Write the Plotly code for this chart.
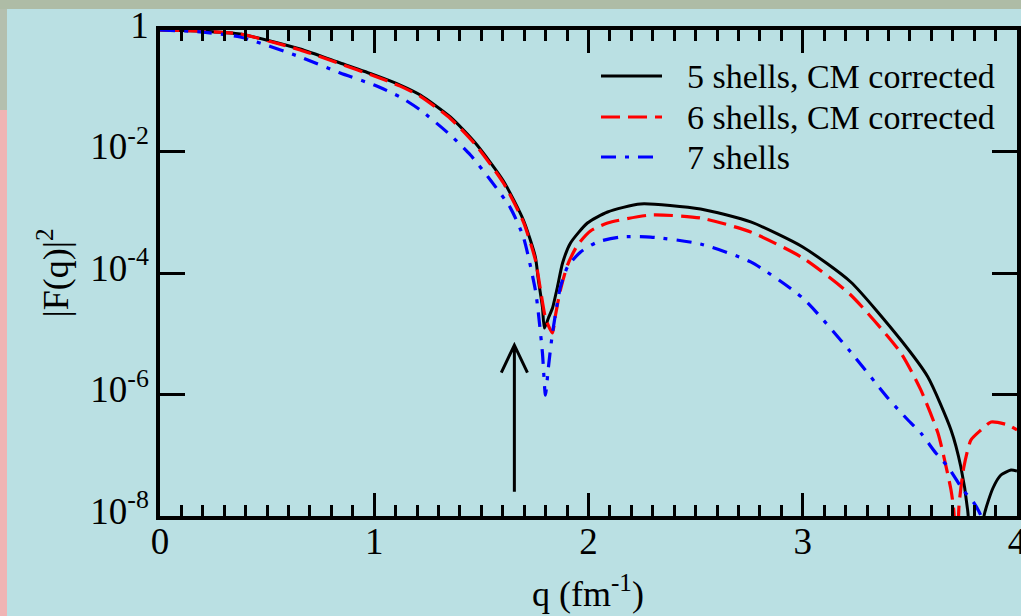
import plotly.graph_objects as go

# ---------------- data ----------------
q5 = [0.0, 0.187, 0.374, 0.654, 0.841, 1.0, 1.121, 1.215, 1.355, 1.472, 1.603, 1.696, 1.752,
      1.766, 1.785, 1.794, 1.813, 1.832, 1.855, 1.879, 1.916, 1.995, 2.089, 2.243, 2.523,
      2.757, 3.0, 3.224, 3.458, 3.584, 3.692, 3.738, 3.771, 3.785, 3.81, 3.832, 3.846,
      3.888, 3.925, 3.972, 4.0]
f5 = [1.0, 0.96, 0.86, 0.486, 0.286, 0.182, 0.124, 0.085, 0.037, 0.0138, 3.27e-3, 7.45e-4, 1.83e-4,
      7.67e-5, 2.76e-5, 1.24e-5, 1.82e-5, 2.65e-5, 5.89e-5, 1.46e-4, 3.12e-4, 6.65e-4, 1.01e-3,
      1.37e-3, 1.13e-3, 6.92e-4, 2.68e-4, 7.11e-5, 7.88e-6, 1.94e-6, 2.61e-7, 6.41e-8, 1.12e-8,
      1e-9, 1e-10, 1e-9, 1e-8, 2.89e-8, 4.73e-8, 5.71e-8, 5.5e-8]

q6 = [0.0, 0.187, 0.374, 0.654, 0.841, 1.0, 1.121, 1.215, 1.355, 1.472, 1.603, 1.696, 1.752,
      1.776, 1.799, 1.818, 1.832, 1.846, 1.869, 1.902, 1.949, 2.009, 2.089, 2.29, 2.523, 2.757,
      3.0, 3.224, 3.458, 3.551, 3.631, 3.659, 3.692, 3.706, 3.718, 3.729, 3.752, 3.785, 3.832,
      3.879, 3.958, 4.0]
f6 = [1.0, 0.96, 0.86, 0.47, 0.277, 0.175, 0.119, 0.081, 0.035, 0.013, 3.03e-3, 6.92e-4, 1.64e-4,
      5.25e-5, 1.82e-5, 1.24e-5, 1.03e-5, 2.04e-5, 5.25e-5, 1.35e-4, 2.89e-4, 4.91e-4, 6.65e-4,
      9.0e-4, 8.04e-4, 4.73e-4, 1.77e-4, 4.34e-5, 4.82e-6, 1.19e-6, 2.32e-7, 9.35e-8, 2.68e-8,
      1.12e-8, 1e-10, 1.41e-8, 6.41e-8, 1.78e-7, 2.61e-7, 3.52e-7, 3.15e-7, 2.61e-7]

q7 = [0.0, 0.187, 0.374, 0.654, 0.841, 1.0, 1.121, 1.215, 1.355, 1.449, 1.542, 1.636, 1.696,
      1.752, 1.766, 1.785, 1.799, 1.813, 1.832, 1.869, 1.902, 1.963, 2.042, 2.15, 2.29, 2.523,
      2.757, 3.0, 3.224, 3.397, 3.491, 3.551, 3.621, 3.678, 3.748, 3.799, 3.832, 3.88, 4.0]
f7 = [1.0, 0.93, 0.767, 0.36, 0.196, 0.124, 0.0789, 0.0482, 0.0187, 8.75e-3, 3.4e-3, 1.17e-3,
      3.91e-4, 5.25e-5, 2.2e-5, 4.82e-6, 9.8e-7, 2.84e-6, 1.03e-5, 5.89e-5, 1.26e-4, 2.22e-4,
      3.24e-4, 3.91e-4, 3.91e-4, 3.0e-4, 1.52e-4, 3.87e-5, 5.0e-6, 8.75e-7, 3.8e-7, 2.32e-7,
      1.09e-7, 6.41e-8, 2.68e-8, 1.64e-8, 1e-8, 2e-9, 1e-10]

names = ["5 shells, CM corrected", "6 shells, CM corrected", "7 shells"]
colors = ["black", "#ff0000", "#0000ff"]
dashes = ["solid", "19px,8px", "15px,9px,4px,9px"]
widths = [3, 3.2, 3.2]
ytick_vals = [1e-8, 1e-6, 1e-4, 1e-2, 1]
ytick_text = ["10<sup>-8</sup>", "10<sup>-6</sup>", "10<sup>-4</sup>", "10<sup>-2</sup>", "1"]
xtick_vals = [0, 1, 2, 3, 4]
x_title = "q (fm<sup>-1</sup>)"
y_title = "|F(q)|<sup>2</sup>"

# arrow marking the minimum (q in fm^-1, heights as |F|^2 values)
arrow_q = 1.654
arrow_tip = 6.5e-6
arrow_tail = 2.5e-8
arrow_head_base = 2.3e-6
arrow_half_w = 0.061   # in q units

FONT = "Liberation Serif, Times New Roman, serif"
BG = "#bae0e3"

W, H = 1021, 616
ML, MR, MT, MB = 160, 4, 30, 100


def px2paper_x(px):
    return (px - ML) / (W - ML - MR)


def px2paper_y(py):
    return (H - MB - py) / (H - MT - MB)


fig = go.Figure()
for qq, ff, nm, c, d, w in zip([q5, q6, q7], [f5, f6, f7], names, colors, dashes, widths):
    fig.add_trace(go.Scatter(x=qq, y=ff, mode="lines", name=nm, showlegend=False,
                             line=dict(color=c, width=w, dash=d, shape="spline", smoothing=0.6)))

axis_common = dict(showline=True, linecolor="black", linewidth=3.5, mirror="allticks",
                   ticks="inside", tickcolor="black", tickwidth=3, showgrid=False,
                   zeroline=False, automargin=False,
                   tickfont=dict(family=FONT, size=37, color="black"))

fig.update_xaxes(range=[0, 4], tickvals=xtick_vals, ticklen=23, ticklabeloverflow="allow",
                 ticklabelstandoff=-10,
                 minor=dict(dtick=0.1, ticks="inside", ticklen=11, tickwidth=3,
                            tickcolor="black", showgrid=False),
                 **axis_common)
fig.update_yaxes(type="log", range=[-8, 0], tickvals=ytick_vals, ticktext=ytick_text,
                 ticklen=25, ticklabelshift=-5,
                 title=dict(text=y_title, font=dict(family=FONT, size=36, color="black"),
                            standoff=12),
                 **axis_common)

# x-axis title placed as an annotation so it can sit at the very bottom edge
fig.add_annotation(xref="paper", yref="paper", x=px2paper_x(588), y=px2paper_y(591),
                   xanchor="center", yanchor="middle", text=x_title, showarrow=False,
                   font=dict(family=FONT, size=36, color="black"))

# arrow: shaft + open head
arrow_path = (f"M {arrow_q},{arrow_tail} L {arrow_q},{arrow_tip} "
              f"M {arrow_q - arrow_half_w},{arrow_head_base} L {arrow_q},{arrow_tip} "
              f"L {arrow_q + arrow_half_w},{arrow_head_base}")
fig.add_shape(type="path", xref="x", yref="y", path=arrow_path,
              line=dict(color="black", width=3))

# legend drawn by hand: sample lines + labels
leg_rows = [76, 117, 157]
for yy, nm, c, d, w in zip(leg_rows, names, colors, dashes, widths):
    fig.add_shape(type="line", xref="paper", yref="paper",
                  x0=px2paper_x(601), x1=px2paper_x(662), y0=px2paper_y(yy), y1=px2paper_y(yy),
                  line=dict(color=c, width=w, dash=d))
    fig.add_annotation(xref="paper", yref="paper", x=px2paper_x(685), y=px2paper_y(yy),
                       xanchor="left", yanchor="middle", text=nm, showarrow=False,
                       font=dict(family=FONT, size=34, color="black"))

# textured page border strips (approximate colours)
fig.add_shape(type="rect", xref="paper", yref="paper", x0=px2paper_x(0), x1=px2paper_x(W),
              y0=px2paper_y(9), y1=px2paper_y(0), fillcolor="#aebca6", line_width=0, layer="above")
fig.add_shape(type="rect", xref="paper", yref="paper", x0=px2paper_x(0), x1=px2paper_x(7),
              y0=px2paper_y(110), y1=px2paper_y(9), fillcolor="#b4bfae", line_width=0, layer="above")
fig.add_shape(type="rect", xref="paper", yref="paper", x0=px2paper_x(0), x1=px2paper_x(7),
              y0=px2paper_y(H), y1=px2paper_y(110), fillcolor="#f0b4b4", line_width=0, layer="above")

fig.update_layout(
    width=W, height=H,
    margin=dict(l=ML, r=MR, t=MT, b=MB, autoexpand=False),
    paper_bgcolor=BG, plot_bgcolor=BG,
    font=dict(family=FONT, color="black"),
    showlegend=False,
)

fig.write_html("out.html")
